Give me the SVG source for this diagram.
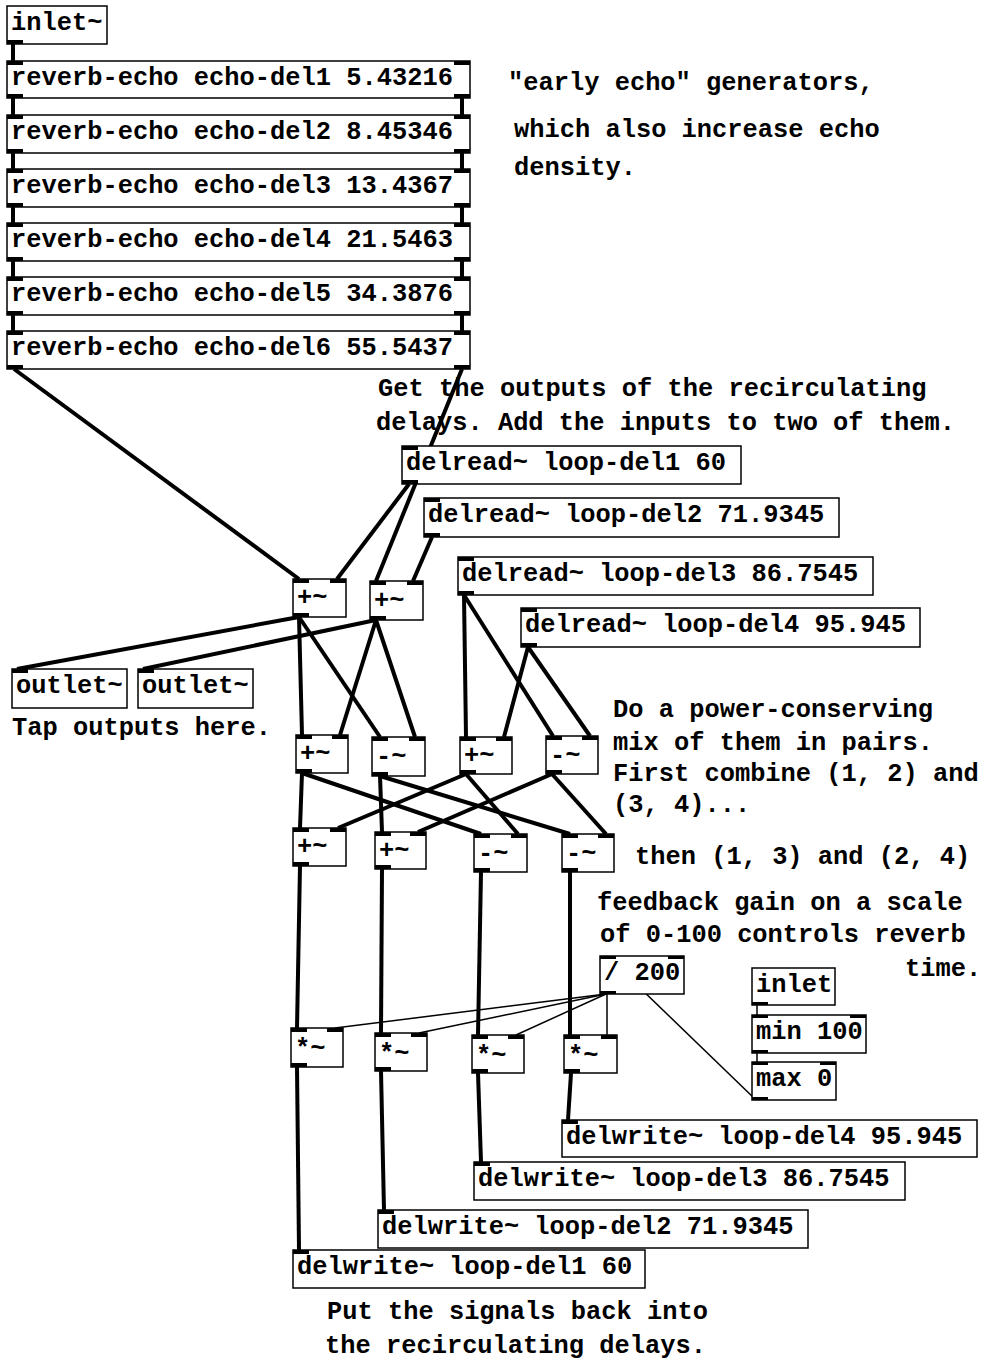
<svg xmlns="http://www.w3.org/2000/svg" width="985" height="1360" viewBox="0 0 985 1360">
<style>
text{font-family:"Liberation Mono","Courier New",monospace;font-weight:bold;font-size:25.4px;fill:#000}
.box{fill:#fff;stroke:#000;stroke-width:1.5}
.io{fill:#000}
.sig{stroke:#000;stroke-width:4;fill:none;stroke-linecap:butt}
.ctl{stroke:#000;stroke-width:1.5;fill:none}
</style>
<rect width="985" height="1360" fill="#fff"/>

<g id="connectors">
<line class="sig" x1="13" y1="44" x2="13" y2="61"/>
<line class="sig" x1="13" y1="98" x2="13" y2="115"/>
<line class="sig" x1="462" y1="98" x2="462" y2="115"/>
<line class="sig" x1="13" y1="153" x2="13" y2="169"/>
<line class="sig" x1="462" y1="153" x2="462" y2="169"/>
<line class="sig" x1="13" y1="207" x2="13" y2="223"/>
<line class="sig" x1="462" y1="207" x2="462" y2="223"/>
<line class="sig" x1="13" y1="261" x2="13" y2="277"/>
<line class="sig" x1="462" y1="261" x2="462" y2="277"/>
<line class="sig" x1="13" y1="315" x2="13" y2="331"/>
<line class="sig" x1="462" y1="315" x2="462" y2="331"/>
<line class="sig" x1="14" y1="369" x2="299" y2="579"/>
<line class="sig" x1="462" y1="369" x2="376" y2="581"/>
<line class="sig" x1="409" y1="484" x2="337" y2="579"/>
<line class="sig" x1="432" y1="537" x2="413" y2="581"/>
<line class="sig" x1="299" y1="617" x2="17" y2="669"/>
<line class="sig" x1="299" y1="617" x2="302" y2="735"/>
<line class="sig" x1="299" y1="617" x2="380" y2="737"/>
<line class="sig" x1="376" y1="620" x2="143" y2="669"/>
<line class="sig" x1="376" y1="620" x2="340" y2="735"/>
<line class="sig" x1="376" y1="620" x2="415" y2="737"/>
<line class="sig" x1="464" y1="595" x2="466" y2="737"/>
<line class="sig" x1="464" y1="595" x2="553" y2="736"/>
<line class="sig" x1="528" y1="647" x2="504" y2="737"/>
<line class="sig" x1="528" y1="647" x2="590" y2="736"/>
<line class="sig" x1="302" y1="773" x2="300" y2="828"/>
<line class="sig" x1="302" y1="773" x2="481" y2="834"/>
<line class="sig" x1="380" y1="776" x2="382" y2="832"/>
<line class="sig" x1="380" y1="776" x2="570" y2="834"/>
<line class="sig" x1="466" y1="774" x2="338" y2="828"/>
<line class="sig" x1="466" y1="774" x2="518" y2="834"/>
<line class="sig" x1="552" y1="774" x2="418" y2="832"/>
<line class="sig" x1="552" y1="774" x2="606" y2="834"/>
<line class="sig" x1="300" y1="866" x2="297" y2="1028"/>
<line class="sig" x1="382" y1="869" x2="381" y2="1033"/>
<line class="sig" x1="481" y1="872" x2="478" y2="1035"/>
<line class="sig" x1="570" y1="872" x2="570" y2="1035"/>
<line class="sig" x1="297" y1="1067" x2="299" y2="1250"/>
<line class="sig" x1="381" y1="1071" x2="384" y2="1210"/>
<line class="sig" x1="478" y1="1073" x2="481" y2="1162"/>
<line class="sig" x1="571" y1="1073" x2="568" y2="1120"/>
<line class="ctl" x1="606" y1="994" x2="335" y2="1028"/>
<line class="ctl" x1="606" y1="994" x2="419" y2="1033"/>
<line class="ctl" x1="606" y1="994" x2="516" y2="1035"/>
<line class="ctl" x1="607" y1="994" x2="607" y2="1035"/>
<line class="ctl" x1="755" y1="1099" x2="608" y2="957"/>
<line class="ctl" x1="757" y1="1005" x2="757" y2="1015"/>
<line class="ctl" x1="757" y1="1053" x2="757" y2="1062"/>
</g>

<g id="inlet-sig"><rect class="box" x="7" y="6" width="100" height="38"/><rect class="io" x="7" y="40" width="16" height="4"/><text x="11" y="30">inlet~</text></g>

<g id="re1"><rect class="box" x="7" y="61" width="463" height="37"/><rect class="io" x="7" y="61" width="16" height="4"/><rect class="io" x="454" y="61" width="16" height="4"/><rect class="io" x="7" y="94" width="16" height="4"/><rect class="io" x="454" y="94" width="16" height="4"/><text x="11" y="85">reverb-echo echo-del1 5.43216</text></g>
<g id="re2"><rect class="box" x="7" y="115" width="463" height="38"/><rect class="io" x="7" y="115" width="16" height="4"/><rect class="io" x="454" y="115" width="16" height="4"/><rect class="io" x="7" y="149" width="16" height="4"/><rect class="io" x="454" y="149" width="16" height="4"/><text x="11" y="139">reverb-echo echo-del2 8.45346</text></g>
<g id="re3"><rect class="box" x="7" y="169" width="463" height="38"/><rect class="io" x="7" y="169" width="16" height="4"/><rect class="io" x="454" y="169" width="16" height="4"/><rect class="io" x="7" y="203" width="16" height="4"/><rect class="io" x="454" y="203" width="16" height="4"/><text x="11" y="193">reverb-echo echo-del3 13.4367</text></g>
<g id="re4"><rect class="box" x="7" y="223" width="463" height="38"/><rect class="io" x="7" y="223" width="16" height="4"/><rect class="io" x="454" y="223" width="16" height="4"/><rect class="io" x="7" y="257" width="16" height="4"/><rect class="io" x="454" y="257" width="16" height="4"/><text x="11" y="247">reverb-echo echo-del4 21.5463</text></g>
<g id="re5"><rect class="box" x="7" y="277" width="463" height="38"/><rect class="io" x="7" y="277" width="16" height="4"/><rect class="io" x="454" y="277" width="16" height="4"/><rect class="io" x="7" y="311" width="16" height="4"/><rect class="io" x="454" y="311" width="16" height="4"/><text x="11" y="301">reverb-echo echo-del5 34.3876</text></g>
<g id="re6"><rect class="box" x="7" y="331" width="463" height="38"/><rect class="io" x="7" y="331" width="16" height="4"/><rect class="io" x="454" y="331" width="16" height="4"/><rect class="io" x="7" y="365" width="16" height="4"/><rect class="io" x="454" y="365" width="16" height="4"/><text x="11" y="355">reverb-echo echo-del6 55.5437</text></g>

<g id="dr1"><rect class="box" x="402" y="446" width="339" height="38"/><rect class="io" x="402" y="446" width="16" height="4"/><rect class="io" x="402" y="480" width="16" height="4"/><text x="406" y="470">delread~ loop-del1 60</text></g>
<g id="dr2"><rect class="box" x="424" y="498" width="415" height="39"/><rect class="io" x="424" y="498" width="16" height="4"/><rect class="io" x="424" y="533" width="16" height="4"/><text x="428" y="522">delread~ loop-del2 71.9345</text></g>
<g id="dr3"><rect class="box" x="458" y="557" width="415" height="38"/><rect class="io" x="458" y="557" width="16" height="4"/><rect class="io" x="458" y="591" width="16" height="4"/><text x="462" y="581">delread~ loop-del3 86.7545</text></g>
<g id="dr4"><rect class="box" x="521" y="608" width="399" height="39"/><rect class="io" x="521" y="608" width="16" height="4"/><rect class="io" x="521" y="643" width="16" height="4"/><text x="525" y="632">delread~ loop-del4 95.945</text></g>

<g id="add1"><rect class="box" x="293" y="579" width="53" height="38"/><rect class="io" x="293" y="579" width="16" height="4"/><rect class="io" x="330" y="579" width="16" height="4"/><rect class="io" x="293" y="613" width="16" height="4"/><text x="297" y="605">+~</text></g>
<g id="add2"><rect class="box" x="370" y="581" width="53" height="39"/><rect class="io" x="370" y="581" width="16" height="4"/><rect class="io" x="407" y="581" width="16" height="4"/><rect class="io" x="370" y="616" width="16" height="4"/><text x="374" y="608">+~</text></g>

<g id="out1"><rect class="box" x="12" y="669" width="115" height="39"/><rect class="io" x="12" y="669" width="16" height="4"/><text x="16" y="693">outlet~</text></g>
<g id="out2"><rect class="box" x="138" y="669" width="115" height="39"/><rect class="io" x="138" y="669" width="16" height="4"/><text x="142" y="693">outlet~</text></g>

<g id="r3a"><rect class="box" x="296" y="735" width="52" height="38"/><rect class="io" x="296" y="735" width="16" height="4"/><rect class="io" x="332" y="735" width="16" height="4"/><rect class="io" x="296" y="769" width="16" height="4"/><text x="300" y="761">+~</text></g>
<g id="r3b"><rect class="box" x="372" y="737" width="53" height="39"/><rect class="io" x="372" y="737" width="16" height="4"/><rect class="io" x="409" y="737" width="16" height="4"/><rect class="io" x="372" y="772" width="16" height="4"/><text x="376" y="764">-~</text></g>
<g id="r3c"><rect class="box" x="460" y="737" width="52" height="37"/><rect class="io" x="460" y="737" width="16" height="4"/><rect class="io" x="496" y="737" width="16" height="4"/><rect class="io" x="460" y="770" width="16" height="4"/><text x="464" y="763">+~</text></g>
<g id="r3d"><rect class="box" x="546" y="736" width="52" height="38"/><rect class="io" x="546" y="736" width="16" height="4"/><rect class="io" x="582" y="736" width="16" height="4"/><rect class="io" x="546" y="770" width="16" height="4"/><text x="550" y="763">-~</text></g>

<g id="r4a"><rect class="box" x="293" y="828" width="53" height="38"/><rect class="io" x="293" y="828" width="16" height="4"/><rect class="io" x="330" y="828" width="16" height="4"/><rect class="io" x="293" y="862" width="16" height="4"/><text x="297" y="854">+~</text></g>
<g id="r4b"><rect class="box" x="375" y="832" width="51" height="37"/><rect class="io" x="375" y="832" width="16" height="4"/><rect class="io" x="410" y="832" width="16" height="4"/><rect class="io" x="375" y="865" width="16" height="4"/><text x="379" y="858">+~</text></g>
<g id="r4c"><rect class="box" x="474" y="834" width="53" height="38"/><rect class="io" x="474" y="834" width="16" height="4"/><rect class="io" x="511" y="834" width="16" height="4"/><rect class="io" x="474" y="868" width="16" height="4"/><text x="478" y="861">-~</text></g>
<g id="r4d"><rect class="box" x="562" y="834" width="52" height="38"/><rect class="io" x="562" y="834" width="16" height="4"/><rect class="io" x="598" y="834" width="16" height="4"/><rect class="io" x="562" y="868" width="16" height="4"/><text x="566" y="861">-~</text></g>

<g id="div"><rect class="box" x="600" y="956" width="84" height="38"/><rect class="io" x="600" y="956" width="16" height="3"/><rect class="io" x="668" y="956" width="16" height="3"/><rect class="io" x="600" y="991" width="16" height="3"/><text x="604" y="980">/ 200</text></g>
<g id="inlet-ctl"><rect class="box" x="752" y="968" width="83" height="37"/><rect class="io" x="752" y="1002" width="16" height="3"/><text x="756" y="992">inlet</text></g>
<g id="min"><rect class="box" x="752" y="1015" width="114" height="38"/><rect class="io" x="752" y="1015" width="16" height="3"/><rect class="io" x="850" y="1015" width="16" height="3"/><rect class="io" x="752" y="1050" width="16" height="3"/><text x="756" y="1039">min 100</text></g>
<g id="max"><rect class="box" x="752" y="1062" width="84" height="38"/><rect class="io" x="752" y="1062" width="16" height="3"/><rect class="io" x="820" y="1062" width="16" height="3"/><rect class="io" x="752" y="1097" width="16" height="3"/><text x="756" y="1086">max 0</text></g>

<g id="m1"><rect class="box" x="291" y="1028" width="52" height="39"/><rect class="io" x="291" y="1028" width="16" height="4"/><rect class="io" x="327" y="1028" width="16" height="4"/><rect class="io" x="291" y="1063" width="16" height="4"/><text x="295" y="1056">*~</text></g>
<g id="m2"><rect class="box" x="375" y="1033" width="52" height="38"/><rect class="io" x="375" y="1033" width="16" height="4"/><rect class="io" x="411" y="1033" width="16" height="4"/><rect class="io" x="375" y="1067" width="16" height="4"/><text x="379" y="1061">*~</text></g>
<g id="m3"><rect class="box" x="472" y="1035" width="52" height="38"/><rect class="io" x="472" y="1035" width="16" height="4"/><rect class="io" x="508" y="1035" width="16" height="4"/><rect class="io" x="472" y="1069" width="16" height="4"/><text x="476" y="1063">*~</text></g>
<g id="m4"><rect class="box" x="564" y="1035" width="53" height="38"/><rect class="io" x="564" y="1035" width="16" height="4"/><rect class="io" x="601" y="1035" width="16" height="4"/><rect class="io" x="564" y="1069" width="16" height="4"/><text x="568" y="1063">*~</text></g>

<g id="dw4"><rect class="box" x="562" y="1120" width="415" height="37"/><rect class="io" x="562" y="1120" width="16" height="4"/><text x="566" y="1144">delwrite~ loop-del4 95.945</text></g>
<g id="dw3"><rect class="box" x="474" y="1162" width="431" height="38"/><rect class="io" x="474" y="1162" width="16" height="4"/><text x="478" y="1186">delwrite~ loop-del3 86.7545</text></g>
<g id="dw2"><rect class="box" x="378" y="1210" width="430" height="38"/><rect class="io" x="378" y="1210" width="16" height="4"/><text x="382" y="1234">delwrite~ loop-del2 71.9345</text></g>
<g id="dw1"><rect class="box" x="293" y="1250" width="352" height="38"/><rect class="io" x="293" y="1250" width="16" height="4"/><text x="297" y="1274">delwrite~ loop-del1 60</text></g>

<g id="comments">
<text x="508" y="90">"early echo" generators,</text>
<text x="514" y="137">which also increase echo</text>
<text x="514" y="175">density.</text>
<text x="378" y="396">Get the outputs of the recirculating</text>
<text x="376" y="430">delays. Add the inputs to two of them.</text>
<text x="12" y="735">Tap outputs here.</text>
<text x="613" y="717">Do a power-conserving</text>
<text x="613" y="750">mix of them in pairs.</text>
<text x="613" y="781">First combine (1, 2) and</text>
<text x="613" y="812">(3, 4)...</text>
<text x="635" y="864">then (1, 3) and (2, 4)</text>
<text x="597" y="910">feedback gain on a scale</text>
<text x="600" y="942">of 0-100 controls reverb</text>
<text x="905" y="976">time.</text>
<text x="327" y="1319">Put the signals back into</text>
<text x="325" y="1353">the recirculating delays.</text>
</g>
</svg>
